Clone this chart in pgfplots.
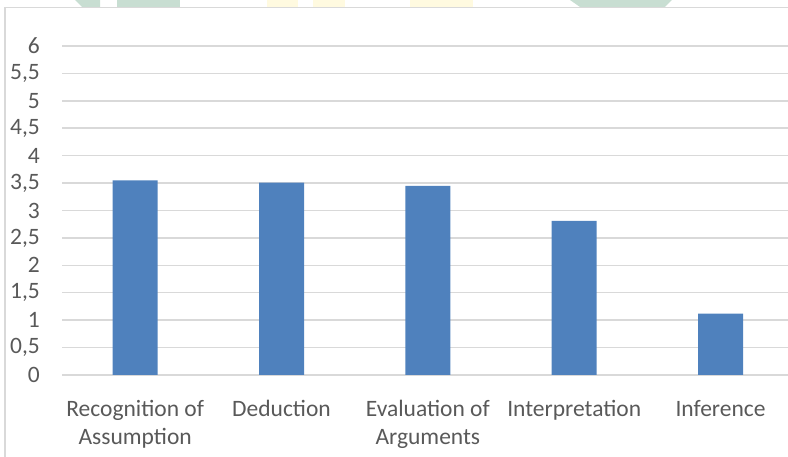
\documentclass[border=0pt]{standalone}
\usepackage{pgfplots}
\pgfplotsset{compat=1.18}
\usepackage{fontspec}
\setmainfont{Carlito}
\definecolor{barblue}{HTML}{4F81BD}
\definecolor{gridgray}{HTML}{D9D9D9}
\definecolor{txtgray}{HTML}{595959}
\definecolor{wmgreen}{HTML}{C8DED2}
\definecolor{wmyellow}{HTML}{FFFAE0}
\begin{document}
\begin{tikzpicture}[x=1pt,y=1pt]
\useasboundingbox (0,0) rectangle (788,457);
% faint watermark fragments at the top edge
\fill[wmgreen] (75,457) -- (100,457) -- (100,450) -- (82,450) -- cycle;
\fill[wmgreen] (117,457) rectangle (180,450);
\fill[wmyellow] (267,457) rectangle (298,450);
\fill[wmyellow] (313,457) rectangle (345,450);
\fill[wmyellow] (410,457) rectangle (473,450);
\fill[wmgreen] (570,457) -- (672,457) -- (665,450) -- (580,450) -- cycle;
% frame
\draw[gridgray, line width=1.5pt] (5,-20) -- (5,449.5) -- (810,449.5);
\begin{axis}[
  at={(62pt,82pt)}, anchor=south west,
  scale only axis, width=731.7pt, height=329pt,
  xmin=-0.5, xmax=4.5, ymin=0, ymax=6,
  ybar, bar width=45pt,
  axis line style={draw=none},
  major tick style={draw=none},
  ymajorgrids, grid style={gridgray, line width=1.5pt},
  ytick={0,0.5,...,6},
  xtick=data,
  xticklabels={{Recognition of\\Assumption},Deduction,{Evaluation of\\Arguments},Interpretation,Inference},
  /pgf/number format/use comma,
  /pgf/number format/assume math mode=true,
  yticklabel style={font=\fontsize{23.5}{28}\selectfont, text=txtgray, inner sep=0pt, xshift=-22pt},
  xticklabel style={font=\fontsize{23.5}{28}\selectfont, text=txtgray, inner sep=0pt, align=center, anchor=north, yshift=-21pt},
  clip=false,
]
\addplot[fill=barblue, draw=none] coordinates {(0,3.55) (1,3.51) (2,3.45) (3,2.81) (4,1.12)};
\end{axis}
\end{tikzpicture}
\end{document}
